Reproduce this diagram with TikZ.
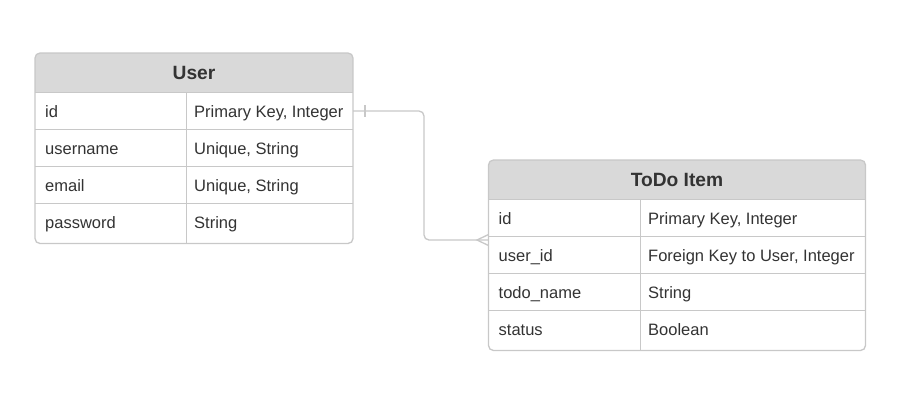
\documentclass[tikz,border=0pt]{standalone}
\usepackage{fontspec}
\setmainfont{Liberation Sans}
\usetikzlibrary{calc}
\definecolor{hdr}{HTML}{D9D9D9}
\definecolor{bord}{HTML}{C8C8C8}
\definecolor{txt}{HTML}{333333}
\begin{document}
\begin{tikzpicture}[x=1pt,y=-1pt,
  body/.style={anchor=west,inner sep=0pt,text=txt,text height=11.8pt,text depth=0pt,font=\fontsize{16.5}{19}\selectfont},
  title/.style={inner sep=0pt,text=txt,text height=13.8pt,text depth=0pt,font=\fontsize{19.2}{22}\selectfont\bfseries},
  gridline/.style={draw=bord,line width=1pt},
  frame/.style={draw=bord,line width=1.3pt,rounded corners=5pt},
  link/.style={draw=bord,line width=1.3pt}]
\useasboundingbox[fill=white] (0,0) rectangle (900,400);

% ---------- User table ----------
\begin{scope}
  \clip[rounded corners=5pt] (35,53) rectangle (353,243.5);
  \fill[hdr] (35,53) rectangle (353,92.5);
\end{scope}
\foreach \yy in {92.5,129.5,166.5,203.5} \draw[gridline] (35,\yy) -- (353,\yy);
\draw[gridline] (186,92.5) -- (186,243.5);
\draw[frame] (35,53) rectangle (353,243.5);
\node[title] (user-title) at (194,73) {User};
\node[body] (u-id) at (45,111.4) {id};
\node[body] (u-id-t) at (194,111.4) {Primary Key, Integer};
\node[body] (u-un) at (45,148.4) {username};
\node[body] (u-un-t) at (194,148.4) {Unique, String};
\node[body] (u-em) at (45,185.4) {email};
\node[body] (u-em-t) at (194,185.4) {Unique, String};
\node[body] (u-pw) at (45,222.4) {password};
\node[body] (u-pw-t) at (194,222.4) {String};

% ---------- ToDo table ----------
\begin{scope}
  \clip[rounded corners=5pt] (488.5,160) rectangle (865.5,350.5);
  \fill[hdr] (488.5,160) rectangle (865.5,199.5);
\end{scope}
\foreach \yy in {199.5,236.5,273.5,310.5} \draw[gridline] (488.5,\yy) -- (865.5,\yy);
\draw[gridline] (640,199.5) -- (640,350.5);
\draw[frame] (488.5,160) rectangle (865.5,350.5);
\node[title] (todo-title) at (677,180) {ToDo Item};
\node[body] (t-id) at (498.5,218.4) {id};
\node[body] (t-id-t) at (648,218.4) {Primary Key, Integer};
\node[body] (t-uid) at (498.5,255.4) {user\_id};
\node[body] (t-uid-t) at (648,255.4) {Foreign Key to User, Integer};
\node[body] (t-nm) at (498.5,292.4) {todo\_name};
\node[body] (t-nm-t) at (648,292.4) {String};
\node[body] (t-st) at (498.5,329.4) {status};
\node[body] (t-st-t) at (648,329.4) {Boolean};

% ---------- relation ----------
\coordinate (uend) at (353,111);
\coordinate (tend) at (488.5,240);
\draw[link,rounded corners=5pt] (uend) -- (424,111) -- (424,240) -- (tend);
\draw[link] ($(uend)+(12,-6)$) -- ($(uend)+(12,6)$);
\draw[link] ($(tend)+(0,-5.5)$) -- ($(tend)+(-11.5,0)$) -- ($(tend)+(0,5.5)$);
\end{tikzpicture}
\end{document}
